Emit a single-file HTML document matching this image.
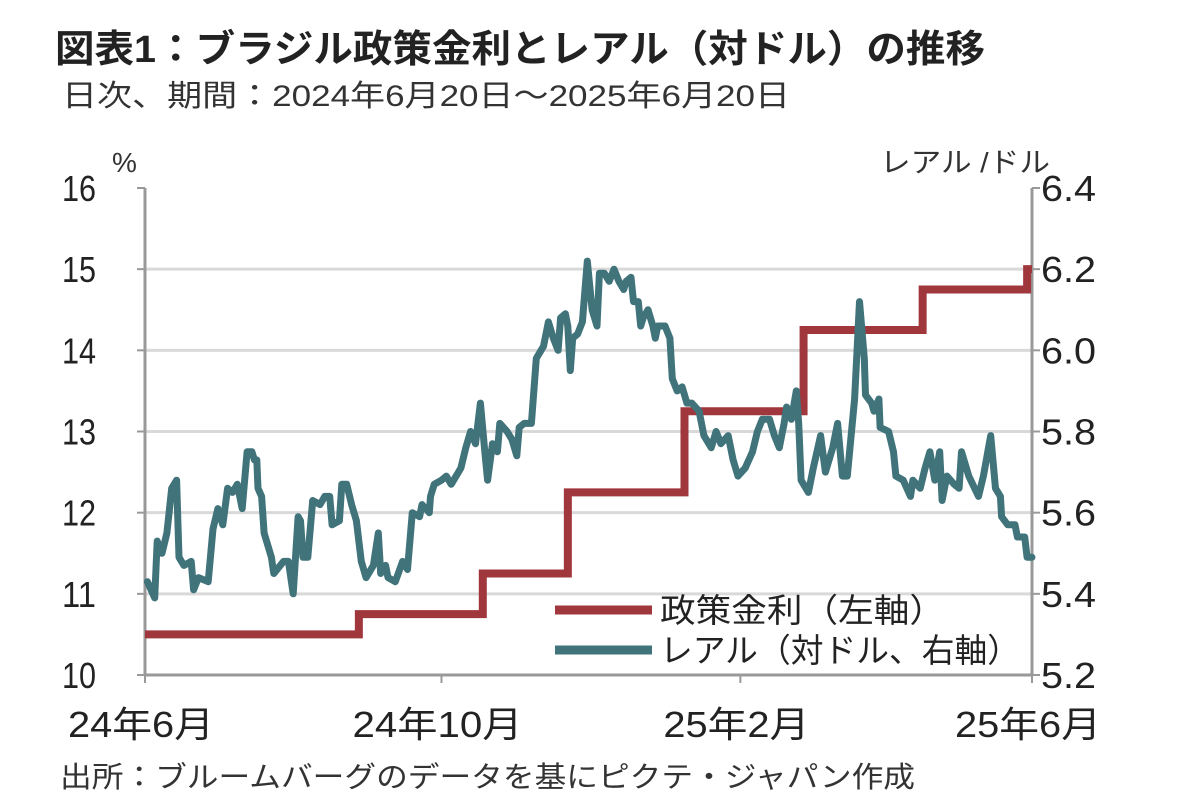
<!DOCTYPE html>
<html><head><meta charset="utf-8"><style>
html,body{margin:0;padding:0;background:#fff;}
svg{display:block;font-family:"Liberation Sans","Noto Sans CJK JP",sans-serif;}
</style></head><body>
<svg id="chart" width="1182" height="812" viewBox="0 0 1182 812">
<text x="55" y="62" font-size="38" font-weight="bold" fill="#222" textLength="930" lengthAdjust="spacingAndGlyphs">図表1：ブラジル政策金利とレアル（対ドル）の推移</text>
<text x="62" y="106" font-size="30" fill="#333" textLength="728" lengthAdjust="spacingAndGlyphs">日次、期間：2024年6月20日～2025年6月20日</text>
<text x="112" y="172" font-size="28" fill="#333">%</text>
<text x="880" y="172" font-size="28" fill="#333" textLength="170" lengthAdjust="spacingAndGlyphs">レアル /ドル</text>
<g id="grid"></g>
<g id="axes"></g>
<g id="series"></g>
<g>
<line x1="555" y1="610" x2="652" y2="610" stroke="#a0373d" stroke-width="9"/>
<text x="660" y="622" font-size="33" fill="#222" textLength="285" lengthAdjust="spacingAndGlyphs">政策金利（左軸）</text>
<line x1="555" y1="650" x2="652" y2="650" stroke="#41737b" stroke-width="9"/>
<text x="660" y="662" font-size="33" fill="#222" textLength="360" lengthAdjust="spacingAndGlyphs">レアル（対ドル、右軸）</text>
</g>
<text x="60" y="787" font-size="29" fill="#333" textLength="855" lengthAdjust="spacingAndGlyphs">出所：ブルームバーグのデータを基にピクテ・ジャパン作成</text>
</svg>
<script>
const leftTicks=[10,11,12,13,14,15,16];
const rightTicks=["5.2","5.4","5.6","5.8","6.0","6.2","6.4"];
const xTickDays=[0,122,245,365];
const xTickLabels=["24年6月","24年10月","25年2月","25年6月"];
const rateDays=[0,88,139,174,222,271,320,363,365];
const rateValues=[10.5,10.75,11.25,12.25,13.25,14.25,14.75,15,15];
const realDays=[1,4,5,7,9,11,13,14,16,19,20,22,26,28,30,32,34,36,38,40,42,44,45,46,46.5,48,49,52,53,57,59,61,63,64,65,67,69,72,74,76,77,80,81,83,85,87,89,91,94,96,97,99,100,103,106,108,110,113,114,117,117.5,119,122,124,126,129,130,132,134,136,138,140,141,143,145,146,149,151,153,154,156,159,161,163,164,166,168,170,171,173,174,175,176,178,180,182,184,186,187,189,191,193,195,197,198,200,201,203,204,205,207,209,210,211,214,216,217,219,221,223,225,228,230,233,235,237,240,242,244,247,250,252,254,257,259,261,263,264,266,268,269,270,273,275,278,280,283,285,287,289,292,294,296,296.5,299,300,302,302.5,306,308,309,312,315,316,319,321,323,325,327,328,330,333,335,336,339,343,345,348,350,352,352.5,355,358,359,362,363,365];
const realValues=[5.43,5.39,5.53,5.50,5.55,5.66,5.68,5.49,5.47,5.48,5.41,5.44,5.43,5.56,5.61,5.57,5.66,5.65,5.67,5.61,5.75,5.75,5.73,5.73,5.66,5.64,5.55,5.49,5.45,5.48,5.48,5.40,5.59,5.58,5.49,5.49,5.63,5.62,5.64,5.64,5.57,5.58,5.67,5.67,5.62,5.58,5.48,5.44,5.47,5.55,5.45,5.47,5.44,5.43,5.48,5.46,5.60,5.59,5.62,5.60,5.64,5.67,5.68,5.69,5.67,5.70,5.71,5.76,5.80,5.77,5.87,5.74,5.68,5.77,5.75,5.82,5.80,5.78,5.74,5.81,5.82,5.82,5.98,6.00,6.01,6.07,6.03,6.00,6.08,6.09,6.06,5.95,6.03,6.04,6.07,6.22,6.10,6.06,6.19,6.19,6.17,6.20,6.17,6.15,6.17,6.18,6.12,6.12,6.06,6.08,6.10,6.06,6.03,6.06,6.06,6.03,5.93,5.90,5.91,5.87,5.87,5.85,5.79,5.76,5.80,5.77,5.79,5.73,5.69,5.71,5.75,5.80,5.83,5.83,5.79,5.76,5.82,5.86,5.83,5.90,5.82,5.68,5.65,5.71,5.79,5.70,5.76,5.82,5.69,5.69,5.88,6.12,5.98,5.89,5.87,5.85,5.88,5.81,5.80,5.75,5.69,5.68,5.64,5.68,5.66,5.71,5.75,5.68,5.75,5.63,5.69,5.67,5.66,5.75,5.69,5.64,5.69,5.79,5.66,5.64,5.59,5.57,5.57,5.54,5.54,5.49,5.49];

const NS="http://www.w3.org/2000/svg";
const X0=145,X1=1032,Y0=675,Y1=188;
const xS=d=>X0+(d/365)*(X1-X0);
const yL=v=>Y0-(v-10)/6*(Y0-Y1);
const yR=v=>Y0-(v-5.2)/1.2*(Y0-Y1);
function mk(tag,attrs,parent){const e=document.createElementNS(NS,tag);for(const k in attrs)e.setAttribute(k,attrs[k]);parent.appendChild(e);return e;}
const grid=document.getElementById('grid'),axes=document.getElementById('axes'),series=document.getElementById('series');
leftTicks.forEach((t,i)=>{
  const y=yL(t);
  if(i>0&&i<leftTicks.length-1){const g=mk('line',{x1:X0,x2:X1,y1:y,y2:y,stroke:'#d9d9d9','stroke-width':3},grid);
  
  }
  const tk=mk('line',{x1:X0-8,x2:X0,y1:y,y2:y,stroke:'#999','stroke-width':2},axes);
  
  
  const tx=mk('text',{x:96,y:y+13,'font-size':36,'text-anchor':'end',fill:'#222',textLength:34,lengthAdjust:'spacingAndGlyphs'},axes);
  tx.textContent=t;
  
  
});
rightTicks.forEach(t=>{
  const y=yR(parseFloat(t));
  const tk=mk('line',{x1:X1,x2:X1+8,y1:y,y2:y,stroke:'#999','stroke-width':2},axes);
  
  
  const tx=mk('text',{x:1041,y:y+13,'font-size':36,fill:'#222',textLength:55,lengthAdjust:'spacingAndGlyphs'},axes);
  tx.textContent=t;
  
  
});
const la=mk('line',{x1:X0,x2:X0,y1:Y1,y2:Y0,stroke:'#999','stroke-width':3},axes);


const ra=mk('line',{x1:X1,x2:X1,y1:Y1,y2:Y0,stroke:'#999','stroke-width':3},axes);


const ba=mk('line',{x1:X0,x2:X1,y1:Y0,y2:Y0,stroke:'#999','stroke-width':3},axes);


xTickDays.forEach((d,i)=>{
  const x=xS(d);
  const tk=mk('line',{x1:x,x2:x,y1:Y0,y2:Y0+8,stroke:'#999','stroke-width':2},axes);
  
  
  const lab=xTickLabels[i];
  const w=lab.length>5?170:146;
  const tx=mk('text',{x:x-4,y:737,'font-size':36,'text-anchor':'middle',fill:'#222',textLength:w,lengthAdjust:'spacingAndGlyphs'},axes);
  tx.textContent=lab;
  
  
});
let rp='';
rateDays.forEach((d,i)=>{
  const x=xS(d),y=yL(rateValues[i]);
  if(i===0)rp+='M'+x+','+y;else rp+=' L'+x+','+yL(rateValues[i-1])+' L'+x+','+y;
});
const rl=mk('path',{d:rp,fill:'none',stroke:'#a0373d','stroke-width':8,'stroke-linejoin':'miter'},series);


let pp='';
realDays.forEach((d,i)=>{pp+=(i?' L':'M')+xS(d).toFixed(1)+','+yR(realValues[i]).toFixed(1);});
const pl=mk('path',{d:pp,fill:'none',stroke:'#41737b','stroke-width':7,'stroke-linejoin':'round','stroke-linecap':'round'},series);


</script>
</body></html>
